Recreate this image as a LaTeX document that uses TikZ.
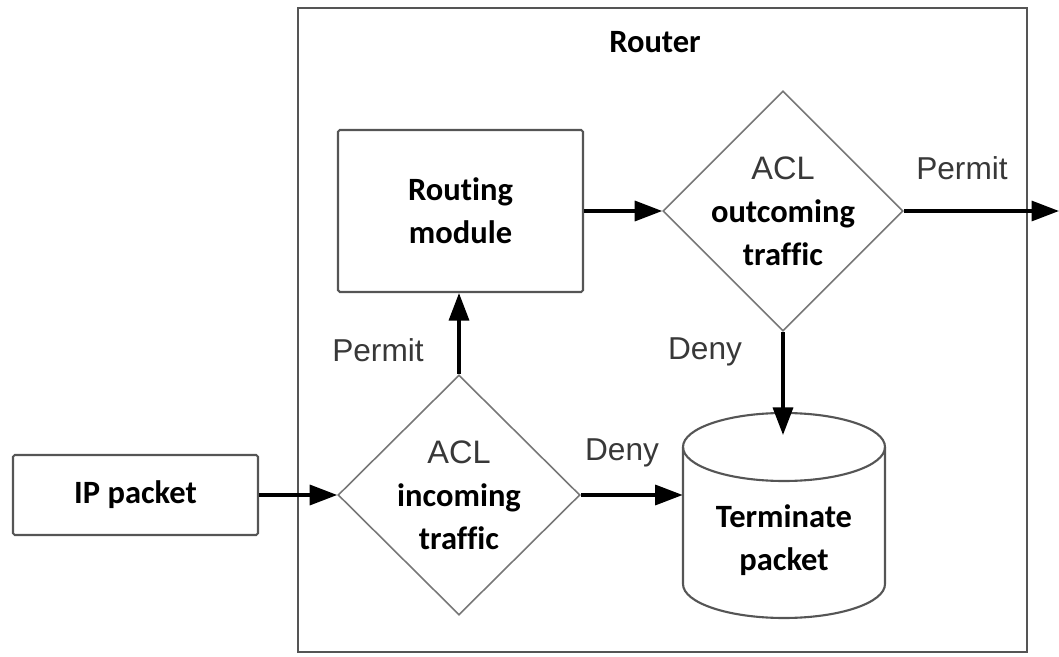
\documentclass[tikz,border=0pt]{standalone}
\usepackage{fontspec}
\setmainfont{Carlito}[Ligatures=NoCommon]
\newfontfamily\arialfont{Liberation Sans}
\usetikzlibrary{shapes.geometric,arrows.meta}

\definecolor{boxgray}{HTML}{555555}
\definecolor{linegray}{HTML}{777777}
\definecolor{labelgray}{HTML}{383838}

\tikzset{
  block/.style={draw=boxgray, line width=1.2pt, rounded corners=1pt, minimum width=4.9cm, txt},
  decision/.style={diamond, draw=linegray, line width=0.9pt, inner sep=0pt},
  flow/.style={-{Triangle[length=0.55cm,width=0.4cm]}, line width=1.9pt, black},
  lbl/.style={font=\arialfont\fontsize{18}{22}\selectfont, text=labelgray},
  txt/.style={font=\bfseries\fontsize{18.5}{24.5}\selectfont, align=center}
}

\begin{document}
\begin{tikzpicture}

	\useasboundingbox (0,0) rectangle (21.18,-13.14);

	% Router frame
	\node (router) [draw=boxgray, line width=1.2pt, minimum width=14.58cm, minimum height=12.88cm] at (13.25,-6.6) {};
	\node (title) [txt] at (13.1,-0.84) {Router};

	% Blocks
	\node (ip) [block, minimum height=1.6cm] at (2.71,-9.9) {IP packet};
	\node (rm) [block, minimum height=3.24cm] at (9.21,-4.22) {Routing\\module};

	% Decisions
	\node (inc) [decision, minimum width=4.84cm, minimum height=4.8cm] at (9.18,-9.9) {};
	\node (inctext) [txt] at (inc.center) {{\mdseries\arialfont\color{labelgray}ACL}\\incoming\\traffic};
	\node (out) [decision, minimum width=4.8cm, minimum height=4.8cm] at (15.66,-4.22) {};
	\node (outtext) [txt] at (out.center) {{\mdseries\arialfont\color{labelgray}ACL}\\outcoming\\traffic};

	% Terminate packet (cylinder)
	\coordinate (cyltop) at (15.68,-8.94);
	\coordinate (cylbot) at (15.68,-11.68);
	\draw[boxgray, line width=1.2pt] ([xshift=-2.02cm]cyltop) -- ([xshift=-2.02cm]cylbot)
		arc[start angle=180, end angle=360, x radius=2.02, y radius=0.68] -- ([xshift=2.02cm]cyltop);
	\draw[boxgray, line width=1.2pt] (cyltop) ellipse [x radius=2.02, y radius=0.68];
	\node (term) [txt, minimum width=4.04cm] at (15.68,-10.8) {Terminate\\packet};
	\coordinate (termin) at (15.66,-8.7);
	\coordinate (exit) at (21.18,-4.22);

	% Connectors
	\draw[flow] (ip.east) -- (inc.west);
	\draw[flow] (inc.north) -- (inc.north |- rm.south);
	\draw[flow] (rm.east) -- (out.west);
	\draw[flow] (out.east) -- (exit);
	\draw[flow] (out.south) -- (termin);
	\draw[flow] (inc.east) -- (term.west |- inc.east);

	% Labels
	\node (pin) [lbl] at (7.56,-7.0) {Permit};
	\node (pout) [lbl] at (19.24,-3.36) {Permit};
	\node (dout) [lbl] at (14.1,-7.04) {Deny};
	\node (din) [lbl] at (12.44,-9.06) {Deny};

\end{tikzpicture}
\end{document}
